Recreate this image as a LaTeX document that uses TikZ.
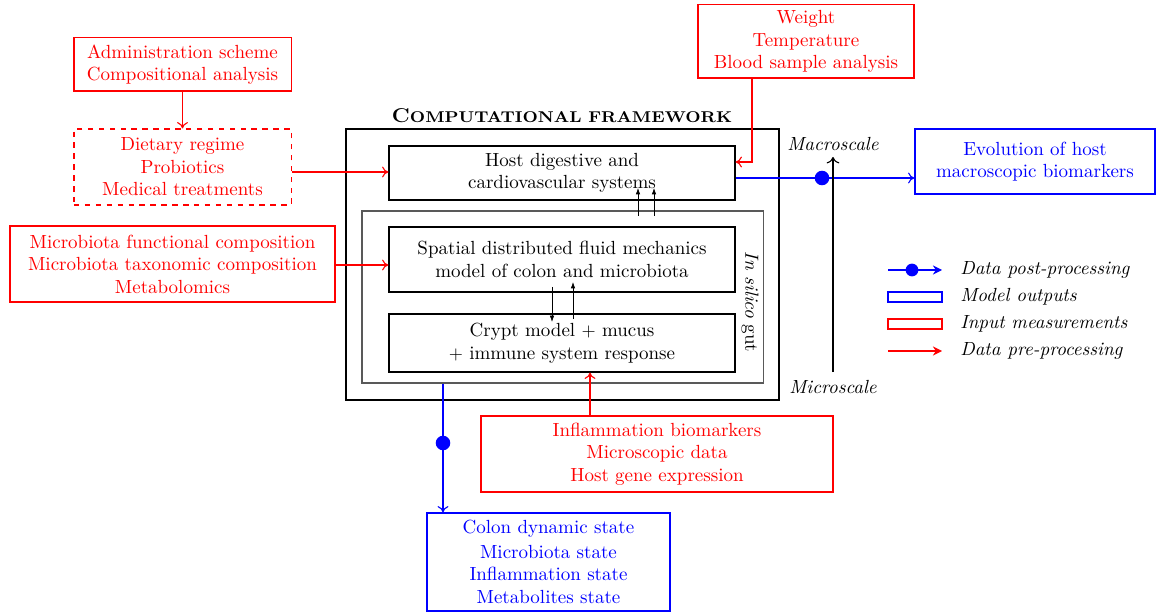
\documentclass[tikz,border=0pt]{standalone}
\usepackage{graphicx}
\usetikzlibrary{arrows.meta,calc}
\begin{document}
\begin{tikzpicture}[x=0.55pt,y=-0.55pt,
  every node/.append style={font=\fontsize{10.45}{12.4}\selectfont},
  box/.style={draw,semithick,rectangle,inner sep=0pt,align=center},
  inbox/.style={box,draw=red,text=red},
  outbox/.style={box,draw=blue,text=blue},
  pre/.style={red,semithick,-{To[length=3.5pt,width=6pt]}},
  post/.style={blue,semithick,-{To[length=3.5pt,width=6pt]}},
  inner/.style={black,-{Latex[length=3.5pt,width=2.5pt]}},
  dot/.style={circle,fill=blue,inner sep=0pt,minimum size=8pt},
  lab/.style={font=\fontsize{10.45}{12.4}\selectfont\itshape}]
\useasboundingbox (0,0) rectangle (1156,613);

% title and frame
\node (frame) [draw,very thick,minimum width=238.2pt,minimum height=149pt,inner sep=0pt] at (562.5,264.5) {};
\node (title) at (562,116) {\resizebox{187pt}{\height}{\bfseries\fontsize{11}{13}\selectfont C\fontsize{8.6}{10}\selectfont OMPUTATIONAL FRAMEWORK}};

% inner boxes
\node (host) [box,minimum width=190.3pt,minimum height=29.7pt] at (562,173) {Host digestive and\\cardiovascular systems};
\node (insilico) [draw,black!65,semithick,minimum width=220.6pt,minimum height=94.6pt,inner sep=0pt] at (562.5,297) {};
\node (spatial) [box,minimum width=190.3pt,minimum height=35.75pt] at (562,259.5) {Spatial distributed fluid mechanics\\model of colon and microbiota};
\node (crypt) [box,minimum width=190.3pt,minimum height=31.9pt] at (562,343) {Crypt model $+$ mucus\\$+$ immune system response};
\node (gut) [rotate=-90] at (750,302) {\textit{In silico} gut};

% inputs
\node (admin) [inbox,minimum width=119.4pt,minimum height=29.2pt] at (182.5,64.5) {Administration scheme\\Compositional analysis};
\node (diet) [inbox,dashed,minimum width=119.4pt,minimum height=41.8pt] at (182.5,167) {Dietary regime\\Probiotics\\Medical treatments};
\node (weight) [inbox,minimum width=118.8pt,minimum height=40.2pt] at (806,41.5) {Weight\\Temperature\\Blood sample analysis};
\node (micro) [inbox,minimum width=178.75pt,minimum height=41.8pt] at (172.5,264) {Microbiota functional composition\\Microbiota taxonomic composition\\Metabolomics};
\node (infl) [inbox,minimum width=193.6pt,minimum height=41.8pt] at (657,454) {Inflammation biomarkers\\Microscopic data\\Host gene expression};

% outputs
\node (evol) [outbox,minimum width=132pt,minimum height=35.75pt] at (1035,161.5) {Evolution of host\\macroscopic biomarkers};
\node (colon) [outbox,minimum width=133.65pt,minimum height=53.9pt] at (548.5,562) {Colon dynamic state\\[1pt]Microbiota state\\Inflammation state\\Metabolites state};

% pre-processing arrows
\draw[pre] (admin.south) -- (diet.north);
\draw[pre] (diet.east |- 0,172) -- (host.west |- 0,172);
\draw[pre] (micro.east |- 0,265) -- (spatial.west |- 0,265);
\coordinate (wk) at (752,162);
\draw[pre] (weight.south -| wk) -- (wk) -- (host.east |- wk);
\coordinate (ik) at (590,0);
\draw[pre] (infl.north -| ik) -- (crypt.south -| ik);

% post-processing
\coordinate (bo) at (822,178);
\draw[post] (host.east |- bo) -- (evol.west |- bo);
\node (dot1) [dot] at (bo) {};
\coordinate (bd) at (443,443);
\draw[post] (insilico.south -| bd) -- (colon.north -| bd);
\node (dot2) [dot] at (bd) {};

% scale axis
\coordinate (mic) at (833,372);
\coordinate (mac) at (833,157);
\draw[semithick,-{To[length=3.5pt,width=7pt]}] (mic) -- (mac);
\node (macl) [lab] at (833,144) {Macroscale};
\node (micl) [lab] at (833,387) {Microscale};

% internal arrows
\coordinate (a1) at (638,216); \coordinate (a2) at (638,188);
\coordinate (a3) at (654,216); \coordinate (a4) at (654,188);
\draw[inner] (a1) -- (a2);
\draw[inner] (a3) -- (a4);
\coordinate (b1) at (552,287); \coordinate (b2) at (552,322);
\coordinate (b3) at (573,319); \coordinate (b4) at (573,282);
\draw[inner] (b1) -- (b2);
\draw[inner] (b3) -- (b4);

% legend
\coordinate (l1a) at (888,270); \coordinate (l1b) at (942,270);
\draw[blue,thick,-{Stealth[length=5pt,width=5pt]}] (l1a) -- (l1b);
\node (ldot) [dot,minimum size=7pt] at (912,270) {};
\node (lt1) [lab,anchor=west] at (954,270) {Data post-processing};
\node (lbox1) [draw=blue,thick,minimum width=29.5pt,minimum height=5.5pt,inner sep=0pt] at (915,297) {};
\node (lt2) [lab,anchor=west] at (954,297) {Model outputs};
\node (lbox2) [draw=red,thick,minimum width=29.5pt,minimum height=5.5pt,inner sep=0pt] at (915,324) {};
\node (lt3) [lab,anchor=west] at (954,324) {Input measurements};
\coordinate (l4a) at (888,351); \coordinate (l4b) at (942,351);
\draw[red,thick,-{Stealth[length=5pt,width=5pt]}] (l4a) -- (l4b);
\node (lt4) [lab,anchor=west] at (954,351) {Data pre-processing};
\end{tikzpicture}
\end{document}
